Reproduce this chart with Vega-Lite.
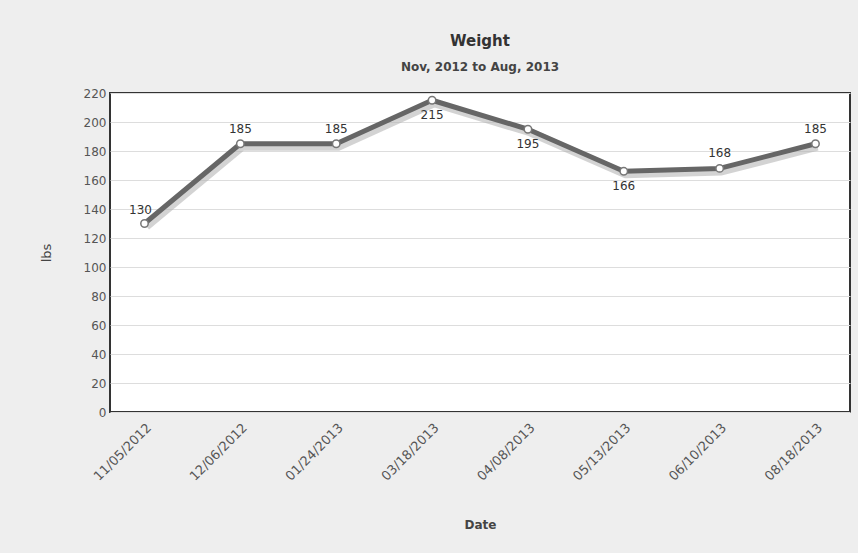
{
  "$schema": "https://vega.github.io/schema/vega-lite/v6.json",
  "autosize": {"type": "none"},
  "width": 740,
  "height": 319,
  "padding": {"left": 110, "top": 93, "right": 8, "bottom": 141},
  "background": "#eeeeee",
  "title": {
    "text": "Weight",
    "subtitle": "Nov, 2012 to Aug, 2013",
    "anchor": "middle",
    "font": "DejaVu Sans",
    "fontSize": 15,
    "fontWeight": "bold",
    "color": "#333333",
    "subtitleFont": "DejaVu Sans",
    "subtitleFontSize": 12,
    "subtitleFontWeight": "bold",
    "subtitleColor": "#444444",
    "subtitlePadding": 13,
    "offset": 14
  },
  "data": {
    "values": [
      {"date": "11/05/2012", "lbs": 130},
      {"date": "12/06/2012", "lbs": 185},
      {"date": "01/24/2013", "lbs": 185},
      {"date": "03/18/2013", "lbs": 215},
      {"date": "04/08/2013", "lbs": 195},
      {"date": "05/13/2013", "lbs": 166},
      {"date": "06/10/2013", "lbs": 168},
      {"date": "08/18/2013", "lbs": 185}
    ]
  },
  "encoding": {
    "x": {
      "field": "date",
      "type": "ordinal",
      "sort": null,
      "scale": {"type": "point", "padding": 0.36},
      "axis": {
        "title": "Date",
        "titleFont": "DejaVu Sans",
        "titleFontSize": 12,
        "titleFontWeight": "bold",
        "titleColor": "#444444",
        "titlePadding": 36,
        "labelAngle": -45,
        "labelFont": "DejaVu Sans",
        "labelFontSize": 13,
        "labelColor": "#555555",
        "labelPadding": 9,
        "ticks": false,
        "domain": false,
        "grid": false
      }
    },
    "y": {
      "field": "lbs",
      "type": "quantitative",
      "scale": {"domain": [0, 220], "nice": false},
      "axis": {
        "title": "lbs",
        "titleFont": "DejaVu Sans",
        "titleFontSize": 13,
        "titleFontWeight": "normal",
        "titleColor": "#444444",
        "titlePadding": 30,
        "values": [0, 20, 40, 60, 80, 100, 120, 140, 160, 180, 200, 220],
        "labelFont": "DejaVu Sans",
        "labelFontSize": 12,
        "labelColor": "#555555",
        "labelPadding": 4,
        "ticks": false,
        "domain": false,
        "grid": true,
        "gridColor": "#dddddd",
        "gridWidth": 1
      }
    }
  },
  "layer": [
    {
      "mark": {"type": "line", "color": "#b5b5b5", "strokeWidth": 8, "opacity": 0.6, "yOffset": 3, "xOffset": 2, "strokeJoin": "round"}
    },
    {
      "mark": {"type": "line", "color": "#666666", "strokeWidth": 5, "strokeJoin": "round"}
    },
    {
      "mark": {"type": "point", "filled": true, "fill": "#ffffff", "stroke": "#777777", "strokeWidth": 1.5, "size": 55, "opacity": 1}
    },
    {
      "transform": [{"filter": {"field": "date", "oneOf": ["12/06/2012", "01/24/2013", "06/10/2013", "08/18/2013"]}}],
      "mark": {"type": "text", "dy": -15, "font": "DejaVu Sans", "fontSize": 12, "color": "#333333"},
      "encoding": {"text": {"field": "lbs", "type": "quantitative"}}
    },
    {
      "transform": [{"filter": {"field": "date", "oneOf": ["03/18/2013", "04/08/2013", "05/13/2013"]}}],
      "mark": {"type": "text", "dy": 15, "font": "DejaVu Sans", "fontSize": 12, "color": "#333333"},
      "encoding": {"text": {"field": "lbs", "type": "quantitative"}}
    },
    {
      "transform": [{"filter": {"field": "date", "equal": "11/05/2012"}}],
      "mark": {"type": "text", "dy": -14, "dx": -4, "font": "DejaVu Sans", "fontSize": 12, "color": "#333333"},
      "encoding": {"text": {"field": "lbs", "type": "quantitative"}}
    }
  ],
  "config": {
    "view": {"fill": "#ffffff", "stroke": "#333333", "strokeWidth": 2}
  }
}
